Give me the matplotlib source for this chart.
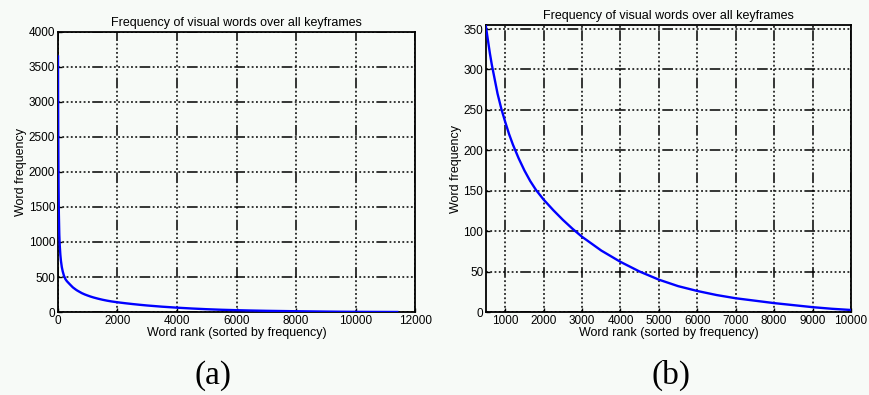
import matplotlib
matplotlib.use("Agg")
import matplotlib.pyplot as plt

# word rank vs frequency
rank = [1, 5, 10, 20, 30, 45, 60, 80, 100, 130, 160, 200, 250, 300, 400, 500,
        550, 600, 650, 700, 800, 900, 1000, 1100, 1200, 1350, 1500, 1650,
        1800, 2000, 2250, 2500, 2750, 3000, 3500, 4000, 4500, 5000, 5500,
        6000, 6500, 7000, 7500, 8000, 8500, 9000, 9500, 10000, 10500, 11000,
        11400]
freq = [3650, 3000, 2500, 1800, 1400, 1100, 950, 820, 730, 640, 580, 520,
        470, 440, 395, 352, 336, 320, 306, 294, 270, 251, 235, 220, 207, 190,
        175, 162, 151, 139, 126, 114, 103, 93, 76, 62, 50, 40, 32, 26, 21,
        17, 14, 11, 8.5, 6, 4, 2.5, 1.5, 0.8, 0.3]

xticks_a = [0, 2000, 4000, 6000, 8000, 10000, 12000]
yticks_a = [0, 500, 1000, 1500, 2000, 2500, 3000, 3500, 4000]
xticks_b = [1000, 2000, 3000, 4000, 5000, 6000, 7000, 8000, 9000, 10000]
yticks_b = [0, 50, 100, 150, 200, 250, 300, 350]

bg = "#f7faf7"
plt.rcParams['font.family'] = ['Liberation Sans', 'DejaVu Sans']

fig = plt.figure(figsize=(8.69, 3.95), dpi=100, facecolor=bg)
ax1 = fig.add_axes([0.0667, 0.2101, 0.411, 0.709])
ax2 = fig.add_axes([0.5593, 0.2101, 0.42, 0.7266])

grid_dash = (1.2, 1.6) * 8 + (7, 1.6)

for ax in (ax1, ax2):
    ax.set_facecolor(bg)
    ax.plot(rank, freq, color='#0000ff', lw=1.7, zorder=3)
    ax.grid(True, color='k', lw=1.1, dashes=grid_dash)
    ax.tick_params(direction='in', length=3, width=1, colors='k', labelsize=8.5, pad=2)
    for s in ax.spines.values():
        s.set_linewidth(1.3)
    ax.set_title('Frequency of visual words over all keyframes', fontsize=9, pad=4)
    ax.set_xlabel('Word rank (sorted by frequency)', fontsize=9, labelpad=0)
    ax.set_ylabel('Word frequency', fontsize=9, labelpad=1)

ax1.set_xlim(0, 12000)
ax1.set_ylim(0, 4000)
ax1.set_xticks(xticks_a)
ax1.set_yticks(yticks_a)

ax2.set_xlim(500, 10000)
ax2.set_ylim(0, 355)
ax2.set_xticks(xticks_b)
ax2.set_yticks(yticks_b)

serif = ['Liberation Serif', 'DejaVu Serif']
fig.text(0.245, 0.05, '(a)', fontsize=24, family=serif, ha='center', va='center')
fig.text(0.772, 0.05, '(b)', fontsize=24, family=serif, ha='center', va='center')

fig.savefig('out.png', dpi=100, facecolor=bg)
